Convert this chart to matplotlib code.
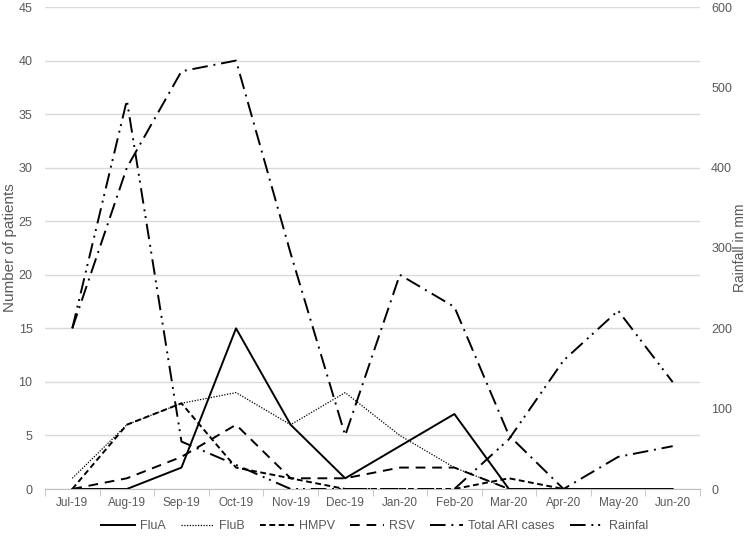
import numpy as np
import matplotlib.pyplot as plt

months = ['Jul-19', 'Aug-19', 'Sep-19', 'Oct-19', 'Nov-19', 'Dec-19',
          'Jan-20', 'Feb-20', 'Mar-20', 'Apr-20', 'May-20', 'Jun-20']
flu_a = [0, 0, 2, 15, 6, 1, 4, 7, 0, 0, 0, 0]
flu_b = [1, 6, 8, 9, 6, 9, 5, 2, 0, 0, 0, 0]
hmpv = [0, 6, 8, 2, 1, 0, 0, 0, 1, 0, 0, 0]
rsv = [0, 1, 3, 6, 1, 1, 2, 2, 0, 0, 0, 0]
total_ari = [15, 30, 39, 40, 22, 5, 20, 17, 5, 0, 3, 4]
rainfall = [200, 484, 59, 30, 0, 0, 0, 0, 62, 160, 222, 133]

grey = '#595959'
plt.rcParams['font.family'] = ['Liberation Sans', 'DejaVu Sans']

fig = plt.figure(figsize=(7.49, 5.39), dpi=100)
ax = fig.add_axes([45 / 749, 1 - 489 / 539, 655 / 749, 482 / 539])
ax2 = ax.twinx()

x = np.arange(len(months))
ax.plot(x, flu_a, color='black', lw=1.4, ls='-', label='FluA')
ax.plot(x, flu_b, color='black', lw=0.9, ls=(0, (1, 1.2)), label='FluB')
ax.plot(x, hmpv, color='black', lw=1.4, ls=(0, (3, 1.8)), label='HMPV')
ax.plot(x, rsv, color='black', lw=1.4, ls=(0, (5, 3.5)), label='RSV')
ax.plot(x, total_ari, color='black', lw=1.4, ls=(0, (8, 3, 1, 3)), label='Total ARI cases')
ax2.plot(x, rainfall, color='black', lw=1.4, ls=(0, (8, 3, 1, 2.5, 1, 3)), label='Rainfal')

ax.set_xlim(-0.5, len(months) - 0.5)
ax.set_ylim(0, 45)
ax.set_yticks(np.arange(0, 46, 5))
ax2.set_ylim(0, 600)
ax2.set_yticks(np.arange(0, 601, 100))

ax.grid(axis='y', color='#d9d9d9', lw=1)
ax.set_axisbelow(True)
for a in (ax, ax2):
    for s in a.spines.values():
        s.set_visible(False)
ax.spines['bottom'].set_visible(True)
ax.spines['bottom'].set_color('#bfbfbf')

ax.set_xticks(x)
ax.set_xticklabels(months, fontsize=8.5, color=grey)
ax.set_xticks(np.arange(-0.5, len(months), 1), minor=True)
ax.tick_params(axis='x', which='major', length=0, pad=6)
ax.tick_params(axis='x', which='minor', length=5, color='#bfbfbf')
ax.tick_params(axis='y', length=0, labelsize=9, labelcolor=grey, pad=9)
ax2.tick_params(axis='y', length=0, labelsize=9, labelcolor=grey, pad=8)

ax.set_ylabel('Number of patients', fontsize=11, color=grey)
ax.yaxis.set_label_coords(-28 / 655, 0.5)
ax2.set_ylabel('Rainfall in mm', fontsize=10, color=grey)
ax2.yaxis.set_label_coords(1 + 33 / 655, 0.5)

h1, l1 = ax.get_legend_handles_labels()
h2, l2 = ax2.get_legend_handles_labels()
fig.legend(h1 + h2, l1 + l2, loc='center', bbox_to_anchor=(0.5, 1 - 526 / 539),
           ncol=6, frameon=False, handlelength=2.7, columnspacing=1.2,
           handletextpad=0.4, prop={'size': 9}, labelcolor=grey)

fig.savefig('out.png', dpi=100)
